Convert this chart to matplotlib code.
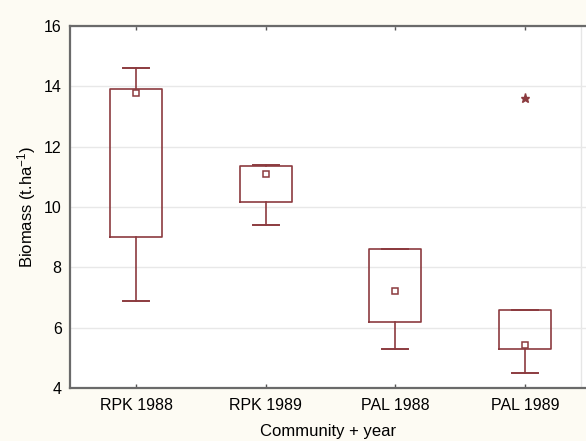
import matplotlib
matplotlib.use("Agg")
import matplotlib.pyplot as plt

plt.rcParams['font.family'] = ['Liberation Sans', 'DejaVu Sans']
plt.rcParams['mathtext.fontset'] = 'custom'
plt.rcParams['mathtext.rm'] = 'Liberation Sans'
plt.rcParams['mathtext.it'] = 'Liberation Sans:italic'

# summary statistics per community and year
groups = ['RPK 1988', 'RPK 1989', 'PAL 1988', 'PAL 1989']
q1 = [9.0, 10.15, 6.2, 5.3]
q3 = [13.9, 11.35, 8.6, 6.6]
whis_lo = [6.9, 9.4, 5.3, 4.5]
whis_hi = [14.6, 11.4, 8.6, 6.6]
medians = [13.78, 11.1, 7.2, 5.42]
outliers = [[], [], [], [13.6]]

box_col = '#8c3b3f'
bg = '#fdfbf3'

fig = plt.figure(figsize=(5.86, 4.41), dpi=100, facecolor=bg)
ax = fig.add_axes([70/586, 1 - 388/441, 516/586, 362/441])
ax.set_facecolor('white')

pos = list(range(1, len(groups) + 1))
stats = []
for i in range(len(groups)):
    stats.append(dict(med=medians[i], q1=q1[i], q3=q3[i],
                      whislo=whis_lo[i], whishi=whis_hi[i], fliers=outliers[i]))

ax.bxp(stats, positions=pos, widths=0.40, showfliers=True,
       boxprops=dict(color=box_col, linewidth=1.2),
       whiskerprops=dict(color=box_col, linewidth=1.2),
       capprops=dict(color=box_col, linewidth=1.4),
       medianprops=dict(visible=False),
       flierprops=dict(marker='*', markersize=6.5, markerfacecolor=box_col,
                       markeredgecolor=box_col, linestyle='none'),
       zorder=3)

# median markers
ax.plot(pos, medians, linestyle='none', marker='s', markersize=4.5,
        markerfacecolor='white', markeredgecolor=box_col, markeredgewidth=1.1,
        zorder=4)

ax.set_xlim(0.491, 4.47)
ax.set_ylim(4, 16)
ax.set_yticks([4, 6, 8, 10, 12, 14, 16])
ax.set_xticks(pos)
ax.set_xticklabels(groups)
ax.yaxis.grid(True, color='#e8e8e8', linewidth=1.0, zorder=0)
ax.axvline(4.43, color='#e6e6e6', linewidth=1.0, zorder=0)
ax.set_axisbelow(True)

ax.tick_params(axis='x', direction='in', top=True, length=3, width=1,
               color='#555555', labelsize=11.5, pad=7)
ax.tick_params(axis='y', length=0, labelsize=11.5, pad=6)

for side in ['left', 'bottom', 'top']:
    ax.spines[side].set_color('#6a6a6a')
    ax.spines[side].set_linewidth(1.6)
ax.spines['right'].set_visible(False)

ax.set_xlabel('Community + year', fontsize=12, labelpad=8)
ax.set_ylabel(r'Biomass (t.ha$^{-1}$)', fontsize=12, labelpad=4)

fig.savefig('out.png', dpi=100, facecolor=bg)
